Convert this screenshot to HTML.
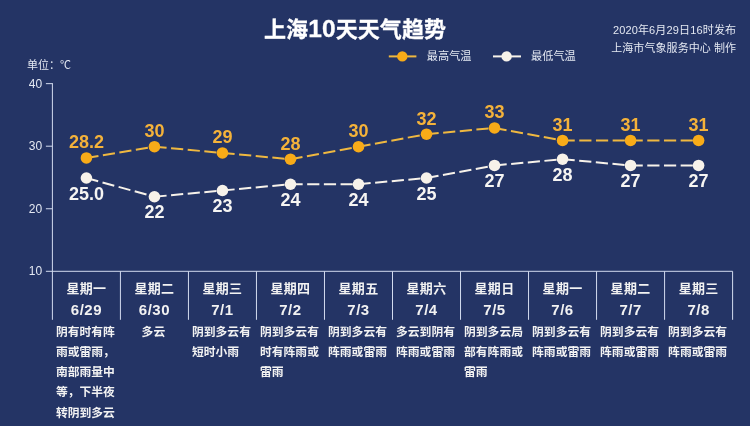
<!DOCTYPE html>
<html lang="zh-CN">
<head>
<meta charset="utf-8">
<title>上海10天天气趋势</title>
<style>
html,body{margin:0;padding:0;background:#243465;}
body{width:750px;height:426px;overflow:hidden;}
#stage{position:relative;width:750px;height:426px;background:#243465;overflow:hidden;
 font-family:"Liberation Sans","Noto Sans CJK SC",sans-serif;color:#fff;}
#stage div{position:absolute;white-space:nowrap;}
.chart{position:absolute;left:0;top:0;}
.title{text-align:center;font-weight:bold;font-size:22px;color:#fff;letter-spacing:0.1px;-webkit-text-stroke:0.3px #fff;}
.title .n{font-size:24.5px;line-height:0;}
.info{text-align:right;font-size:11px;color:#e4e8f2;}
.leg{text-align:left;font-size:11.2px;color:#e4e8f2;}
.unit{text-align:left;font-size:11px;color:#e4e8f2;}
.ylab{text-align:right;font-size:12px;color:#e4e8f2;}
.dl{text-align:center;font-weight:bold;font-size:18px;letter-spacing:0px;}
.hi{color:#f4b23a;}
.lo{color:#f6f5f3;}
.day{text-align:center;font-weight:bold;font-size:13px;color:#f2f2f2;letter-spacing:0.3px;}
.date{text-align:center;font-weight:bold;font-size:15px;color:#f2f2f2;letter-spacing:0.5px;}
.desc{text-align:center;font-weight:bold;font-size:11.8px;line-height:20.3px;color:#f2f2f2;}
.desc span{display:inline-block;text-align:left;}
</style>
</head>
<body>
<div id="stage">
<svg class="chart" width="750" height="426" viewBox="0 0 750 426">
<g stroke="#d3dbef" stroke-width="1" fill="none"><line x1="52.4" y1="83.15" x2="52.4" y2="319.8"/><line x1="45.9" y1="271.3" x2="732.60" y2="271.3"/><line x1="45.9" y1="208.75" x2="52.4" y2="208.75"/><line x1="45.9" y1="146.20" x2="52.4" y2="146.20"/><line x1="45.9" y1="83.65" x2="52.4" y2="83.65"/><line x1="120.42" y1="271.3" x2="120.42" y2="319.8"/><line x1="188.44" y1="271.3" x2="188.44" y2="319.8"/><line x1="256.46" y1="271.3" x2="256.46" y2="319.8"/><line x1="324.48" y1="271.3" x2="324.48" y2="319.8"/><line x1="392.50" y1="271.3" x2="392.50" y2="319.8"/><line x1="460.52" y1="271.3" x2="460.52" y2="319.8"/><line x1="528.54" y1="271.3" x2="528.54" y2="319.8"/><line x1="596.56" y1="271.3" x2="596.56" y2="319.8"/><line x1="664.58" y1="271.3" x2="664.58" y2="319.8"/><line x1="732.60" y1="271.3" x2="732.60" y2="319.8"/></g>
<g stroke-width="2.0" fill="none"><line x1="388.8" y1="56.4" x2="416.4" y2="56.4" stroke="#efb840"/><line x1="493" y1="56.4" x2="521" y2="56.4" stroke="#f7f2ea"/></g>
<circle cx="402.3" cy="56.4" r="5.2" fill="#f8ab18"/><circle cx="506.6" cy="56.4" r="5.2" fill="#f7f2ea"/>
<g stroke="#efb840" stroke-width="2.0" stroke-dasharray="12.2 4.5" fill="none"><path d="M86.41 157.96 L154.43 146.70"/><path d="M154.43 146.70 L222.45 152.96"/><path d="M222.45 152.96 L290.47 159.21"/><path d="M290.47 159.21 L358.49 146.70"/><path d="M358.49 146.70 L426.51 134.19"/><path d="M426.51 134.19 L494.53 127.94"/><path d="M494.53 127.94 L562.55 140.45"/><path d="M562.55 140.45 L630.57 140.45"/><path d="M630.57 140.45 L698.59 140.45"/></g>
<g stroke="#f7f2ea" stroke-width="2.0" stroke-dasharray="12.2 4.5" fill="none"><path d="M86.41 177.98 L154.43 196.74"/><path d="M154.43 196.74 L222.45 190.49"/><path d="M222.45 190.49 L290.47 184.23"/><path d="M290.47 184.23 L358.49 184.23"/><path d="M358.49 184.23 L426.51 177.98"/><path d="M426.51 177.98 L494.53 165.47"/><path d="M494.53 165.47 L562.55 159.21"/><path d="M562.55 159.21 L630.57 165.47"/><path d="M630.57 165.47 L698.59 165.47"/></g>
<circle cx="86.41" cy="157.96" r="5.8" fill="#f8ab18"/>
<circle cx="154.43" cy="146.70" r="5.8" fill="#f8ab18"/>
<circle cx="222.45" cy="152.96" r="5.8" fill="#f8ab18"/>
<circle cx="290.47" cy="159.21" r="5.8" fill="#f8ab18"/>
<circle cx="358.49" cy="146.70" r="5.8" fill="#f8ab18"/>
<circle cx="426.51" cy="134.19" r="5.8" fill="#f8ab18"/>
<circle cx="494.53" cy="127.94" r="5.8" fill="#f8ab18"/>
<circle cx="562.55" cy="140.45" r="5.8" fill="#f8ab18"/>
<circle cx="630.57" cy="140.45" r="5.8" fill="#f8ab18"/>
<circle cx="698.59" cy="140.45" r="5.8" fill="#f8ab18"/>
<circle cx="86.41" cy="177.98" r="5.8" fill="#f7f2ea"/>
<circle cx="154.43" cy="196.74" r="5.8" fill="#f7f2ea"/>
<circle cx="222.45" cy="190.49" r="5.8" fill="#f7f2ea"/>
<circle cx="290.47" cy="184.23" r="5.8" fill="#f7f2ea"/>
<circle cx="358.49" cy="184.23" r="5.8" fill="#f7f2ea"/>
<circle cx="426.51" cy="177.98" r="5.8" fill="#f7f2ea"/>
<circle cx="494.53" cy="165.47" r="5.8" fill="#f7f2ea"/>
<circle cx="562.55" cy="159.21" r="5.8" fill="#f7f2ea"/>
<circle cx="630.57" cy="165.47" r="5.8" fill="#f7f2ea"/>
<circle cx="698.59" cy="165.47" r="5.8" fill="#f7f2ea"/>
</svg>
<div class="title" style="left:-19.90px;top:15.00px;width:750.00px;height:30px;line-height:30px;">上海<span class="n">10</span>天天气趋势</div>
<div class="info" style="left:436.20px;top:21.30px;width:300.00px;height:18px;line-height:18px;letter-spacing:0.15px;">2020年6月29日16时发布</div>
<div class="info" style="left:436.20px;top:39.00px;width:300.00px;height:18px;line-height:18px;letter-spacing:0.08px;">上海市气象服务中心 制作</div>
<div class="leg" style="left:426.80px;top:47.40px;width:80.00px;height:18px;line-height:18px;">最高气温</div>
<div class="leg" style="left:531.00px;top:47.40px;width:80.00px;height:18px;line-height:18px;">最低气温</div>
<div class="unit" style="left:27.00px;top:55.60px;width:80.00px;height:18px;line-height:18px;">单位：℃</div>
<div class="ylab" style="left:0.00px;top:262.30px;width:42.20px;height:18px;line-height:18px;">10</div>
<div class="ylab" style="left:0.00px;top:199.75px;width:42.20px;height:18px;line-height:18px;">20</div>
<div class="ylab" style="left:0.00px;top:137.20px;width:42.20px;height:18px;line-height:18px;">30</div>
<div class="ylab" style="left:0.00px;top:74.65px;width:42.20px;height:18px;line-height:18px;">40</div>
<div class="dl hi" style="left:52.41px;top:130.46px;width:68.00px;height:24px;line-height:24px;">28.2</div>
<div class="dl hi" style="left:120.43px;top:119.20px;width:68.00px;height:24px;line-height:24px;">30</div>
<div class="dl hi" style="left:188.45px;top:125.46px;width:68.00px;height:24px;line-height:24px;">29</div>
<div class="dl hi" style="left:256.47px;top:131.71px;width:68.00px;height:24px;line-height:24px;">28</div>
<div class="dl hi" style="left:324.49px;top:119.20px;width:68.00px;height:24px;line-height:24px;">30</div>
<div class="dl hi" style="left:392.51px;top:106.69px;width:68.00px;height:24px;line-height:24px;">32</div>
<div class="dl hi" style="left:460.53px;top:100.44px;width:68.00px;height:24px;line-height:24px;">33</div>
<div class="dl hi" style="left:528.55px;top:112.95px;width:68.00px;height:24px;line-height:24px;">31</div>
<div class="dl hi" style="left:596.57px;top:112.95px;width:68.00px;height:24px;line-height:24px;">31</div>
<div class="dl hi" style="left:664.59px;top:112.95px;width:68.00px;height:24px;line-height:24px;">31</div>
<div class="dl lo" style="left:52.41px;top:181.68px;width:68.00px;height:24px;line-height:24px;">25.0</div>
<div class="dl lo" style="left:120.43px;top:200.44px;width:68.00px;height:24px;line-height:24px;">22</div>
<div class="dl lo" style="left:188.45px;top:194.19px;width:68.00px;height:24px;line-height:24px;">23</div>
<div class="dl lo" style="left:256.47px;top:187.93px;width:68.00px;height:24px;line-height:24px;">24</div>
<div class="dl lo" style="left:324.49px;top:187.93px;width:68.00px;height:24px;line-height:24px;">24</div>
<div class="dl lo" style="left:392.51px;top:181.68px;width:68.00px;height:24px;line-height:24px;">25</div>
<div class="dl lo" style="left:460.53px;top:169.17px;width:68.00px;height:24px;line-height:24px;">27</div>
<div class="dl lo" style="left:528.55px;top:162.91px;width:68.00px;height:24px;line-height:24px;">28</div>
<div class="dl lo" style="left:596.57px;top:169.17px;width:68.00px;height:24px;line-height:24px;">27</div>
<div class="dl lo" style="left:664.59px;top:169.17px;width:68.00px;height:24px;line-height:24px;">27</div>
<div class="day" style="left:52.41px;top:278.80px;width:68.00px;height:20px;line-height:20px;">星期一</div>
<div class="date" style="left:52.41px;top:299.60px;width:68.00px;height:20px;line-height:20px;">6/29</div>
<div class="desc" style="left:45.41px;top:321.5px;width:80px;"><span>阴有时有阵<br>雨或雷雨，<br>南部雨量中<br>等，下半夜<br>转阴到多云</span></div>
<div class="day" style="left:120.43px;top:278.80px;width:68.00px;height:20px;line-height:20px;">星期二</div>
<div class="date" style="left:120.43px;top:299.60px;width:68.00px;height:20px;line-height:20px;">6/30</div>
<div class="desc" style="left:113.43px;top:321.5px;width:80px;"><span>多云</span></div>
<div class="day" style="left:188.45px;top:278.80px;width:68.00px;height:20px;line-height:20px;">星期三</div>
<div class="date" style="left:188.45px;top:299.60px;width:68.00px;height:20px;line-height:20px;">7/1</div>
<div class="desc" style="left:181.45px;top:321.5px;width:80px;"><span>阴到多云有<br>短时小雨</span></div>
<div class="day" style="left:256.47px;top:278.80px;width:68.00px;height:20px;line-height:20px;">星期四</div>
<div class="date" style="left:256.47px;top:299.60px;width:68.00px;height:20px;line-height:20px;">7/2</div>
<div class="desc" style="left:249.47px;top:321.5px;width:80px;"><span>阴到多云有<br>时有阵雨或<br>雷雨</span></div>
<div class="day" style="left:324.49px;top:278.80px;width:68.00px;height:20px;line-height:20px;">星期五</div>
<div class="date" style="left:324.49px;top:299.60px;width:68.00px;height:20px;line-height:20px;">7/3</div>
<div class="desc" style="left:317.49px;top:321.5px;width:80px;"><span>阴到多云有<br>阵雨或雷雨</span></div>
<div class="day" style="left:392.51px;top:278.80px;width:68.00px;height:20px;line-height:20px;">星期六</div>
<div class="date" style="left:392.51px;top:299.60px;width:68.00px;height:20px;line-height:20px;">7/4</div>
<div class="desc" style="left:385.51px;top:321.5px;width:80px;"><span>多云到阴有<br>阵雨或雷雨</span></div>
<div class="day" style="left:460.53px;top:278.80px;width:68.00px;height:20px;line-height:20px;">星期日</div>
<div class="date" style="left:460.53px;top:299.60px;width:68.00px;height:20px;line-height:20px;">7/5</div>
<div class="desc" style="left:453.53px;top:321.5px;width:80px;"><span>阴到多云局<br>部有阵雨或<br>雷雨</span></div>
<div class="day" style="left:528.55px;top:278.80px;width:68.00px;height:20px;line-height:20px;">星期一</div>
<div class="date" style="left:528.55px;top:299.60px;width:68.00px;height:20px;line-height:20px;">7/6</div>
<div class="desc" style="left:521.55px;top:321.5px;width:80px;"><span>阴到多云有<br>阵雨或雷雨</span></div>
<div class="day" style="left:596.57px;top:278.80px;width:68.00px;height:20px;line-height:20px;">星期二</div>
<div class="date" style="left:596.57px;top:299.60px;width:68.00px;height:20px;line-height:20px;">7/7</div>
<div class="desc" style="left:589.57px;top:321.5px;width:80px;"><span>阴到多云有<br>阵雨或雷雨</span></div>
<div class="day" style="left:664.59px;top:278.80px;width:68.00px;height:20px;line-height:20px;">星期三</div>
<div class="date" style="left:664.59px;top:299.60px;width:68.00px;height:20px;line-height:20px;">7/8</div>
<div class="desc" style="left:657.59px;top:321.5px;width:80px;"><span>阴到多云有<br>阵雨或雷雨</span></div>
</div>
</body>
</html>
